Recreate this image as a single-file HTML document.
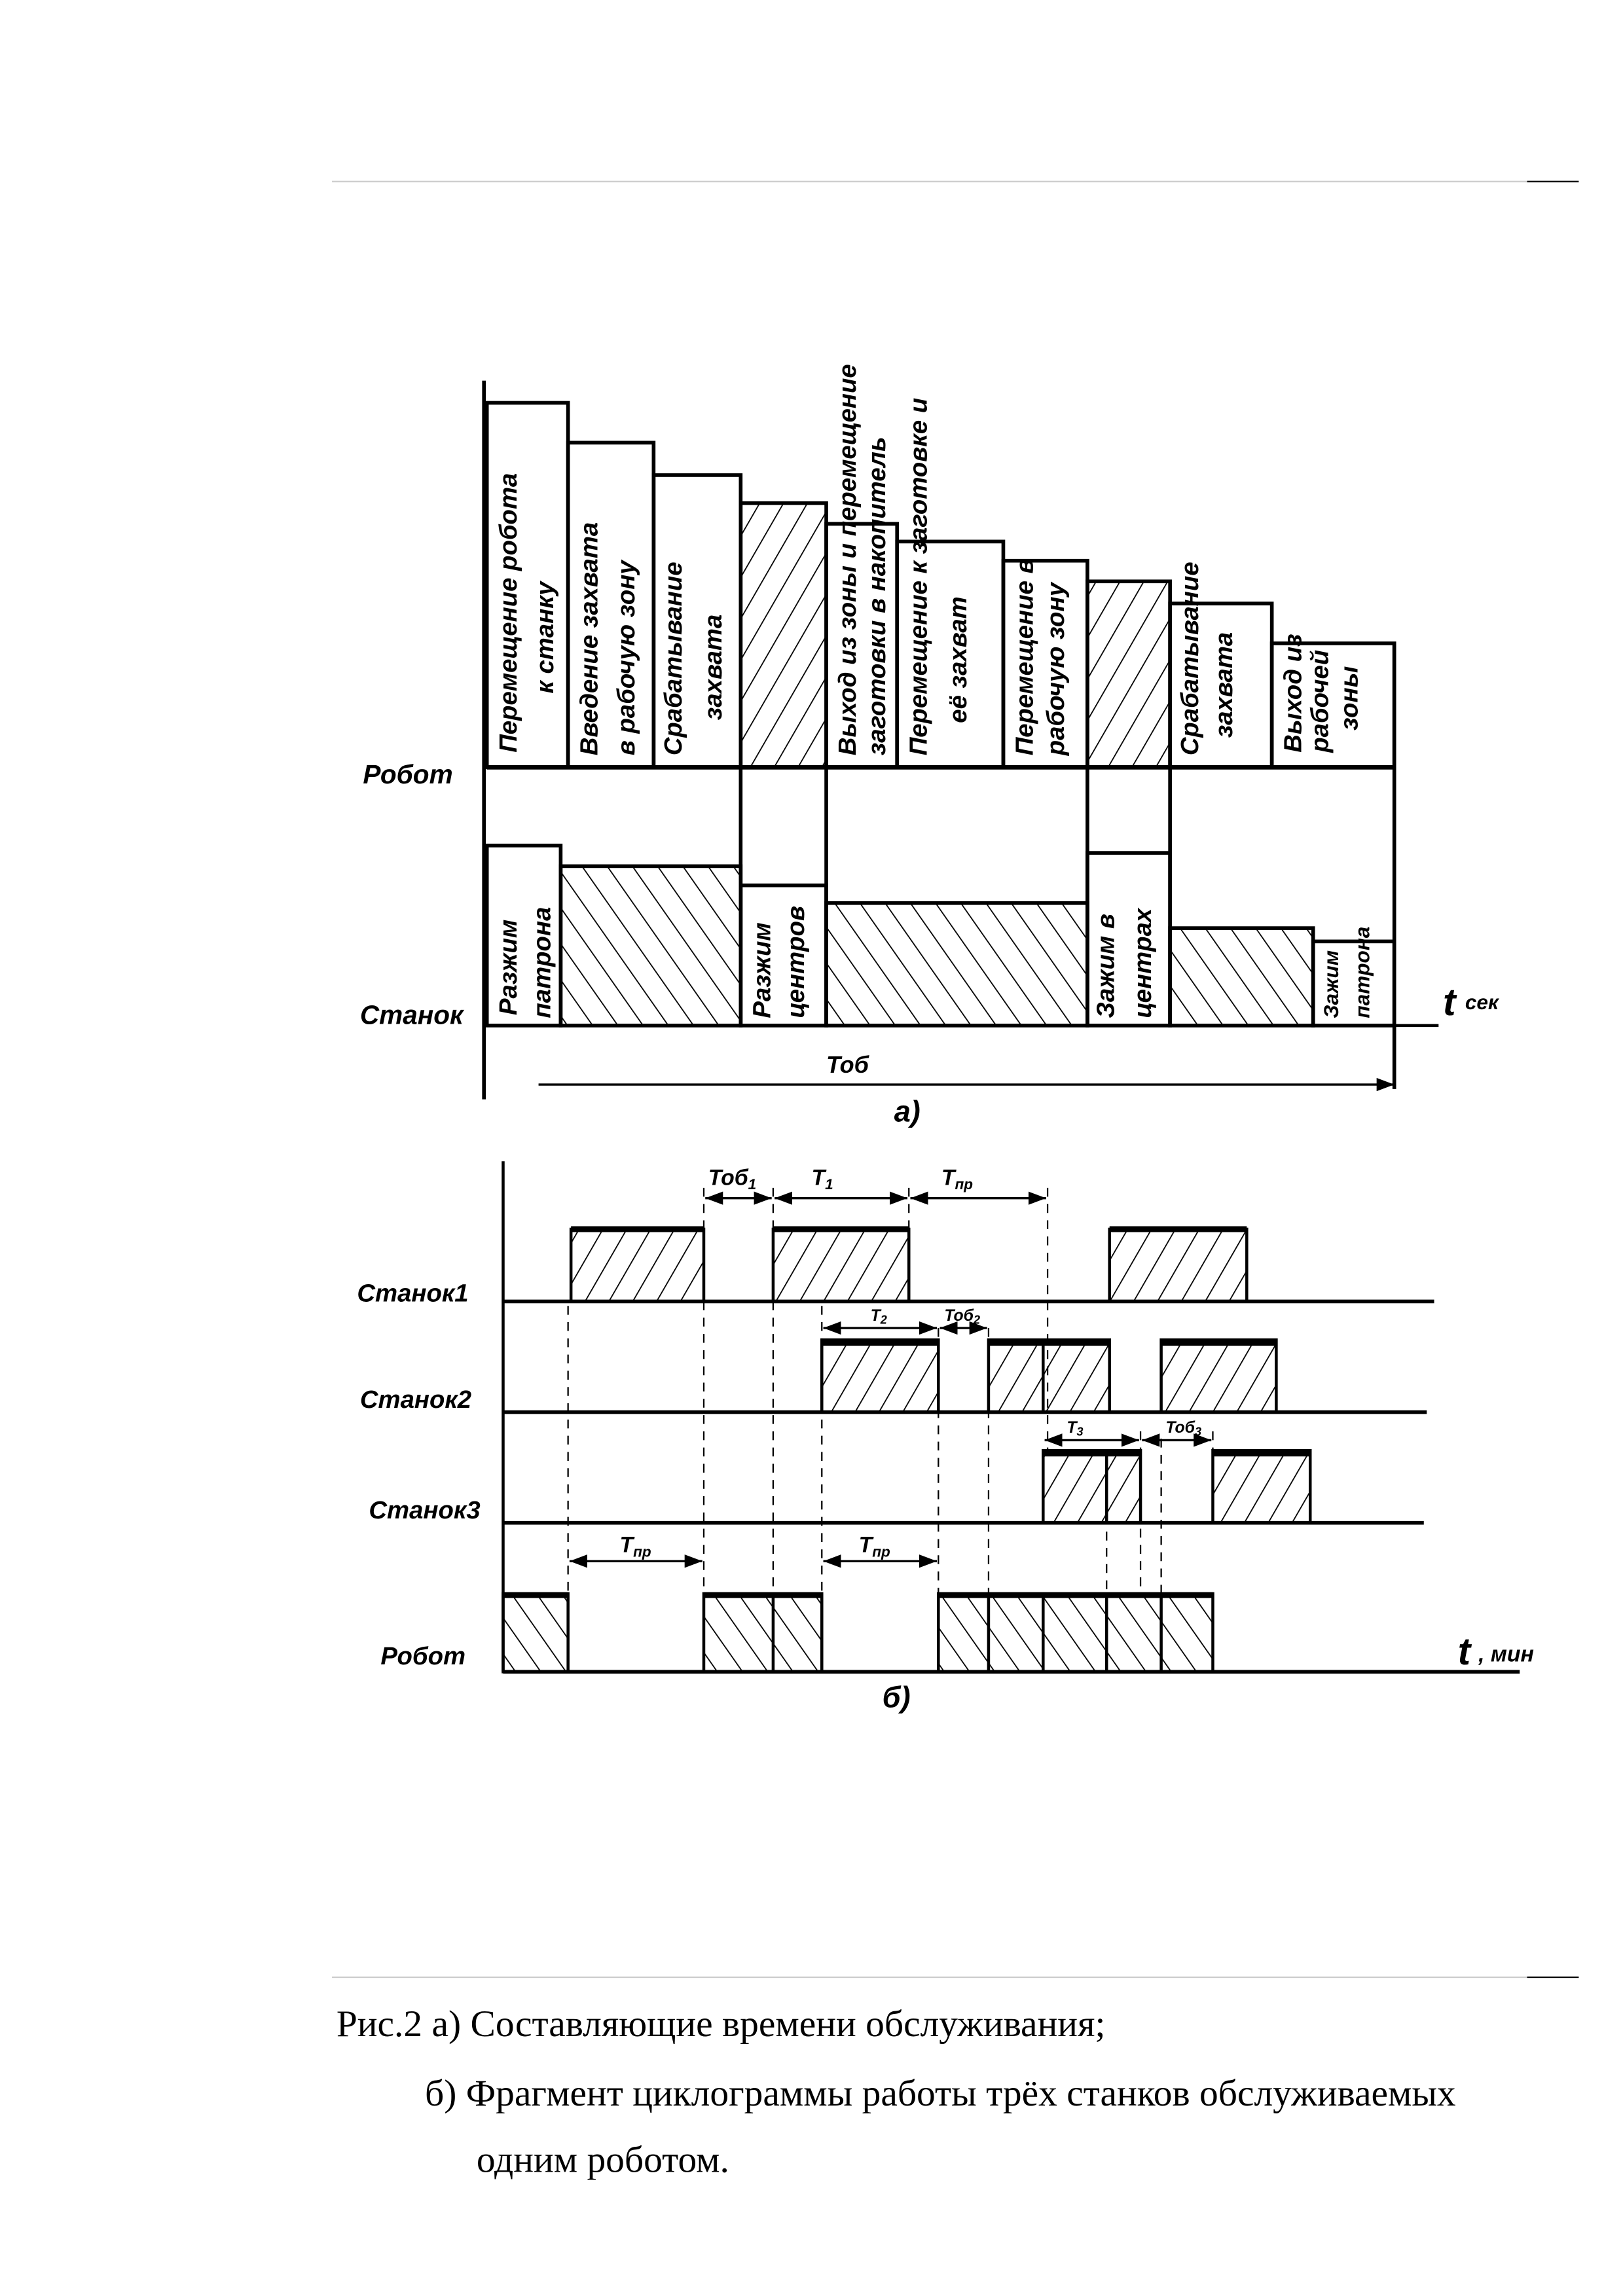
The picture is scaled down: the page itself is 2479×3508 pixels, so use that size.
<!DOCTYPE html>
<html><head><meta charset="utf-8"><style>
html,body{margin:0;padding:0;background:#fff;}
svg{display:block;}
.lb{font-family:"Liberation Sans","DejaVu Sans",sans-serif;font-style:italic;font-weight:bold;fill:#000;}
.cap{font-family:"Liberation Serif",serif;fill:#000;font-size:25.5px;}
</style></head><body>
<svg width="2479" height="3508" viewBox="0 0 1100 1556" preserveAspectRatio="none" xmlns="http://www.w3.org/2000/svg">
<defs>
<pattern id="hf" patternUnits="userSpaceOnUse" width="14" height="14" patternTransform="rotate(30)"><line x1="0" y1="0" x2="0" y2="14" stroke="#000" stroke-width="1.6"/></pattern>
<pattern id="hb" patternUnits="userSpaceOnUse" width="14" height="14" patternTransform="rotate(-35)"><line x1="0" y1="0" x2="0" y2="14" stroke="#000" stroke-width="1.6"/></pattern>
<marker id="ar" markerWidth="8" markerHeight="6" refX="8" refY="3" orient="auto"><path d="M0,0 L8,3 L0,6z" fill="#000"/></marker>
<marker id="al" markerWidth="8" markerHeight="6" refX="0" refY="3" orient="auto"><path d="M8,0 L0,3 L8,6z" fill="#000"/></marker>
</defs>
<line x1="225" y1="123" x2="1070" y2="123" stroke="#ccc" stroke-width="1"/>
<line x1="1035" y1="123" x2="1070" y2="123" stroke="#000" stroke-width="1"/>
<line x1="225" y1="1340" x2="1070" y2="1340" stroke="#ccc" stroke-width="1"/>
<line x1="1035" y1="1340" x2="1070" y2="1340" stroke="#000" stroke-width="1"/>

<!-- part a -->
<g stroke="#000" fill="none" stroke-width="2.5">
<line x1="328" y1="258" x2="328" y2="745"/>
<rect x="330" y="273" width="55" height="247"/>
<rect x="385" y="300" width="58" height="220"/>
<rect x="443" y="322" width="59" height="198"/>
<rect x="502" y="341" width="58" height="179" fill="url(#hf)"/>
<rect x="560" y="355" width="48" height="165"/>
<rect x="608" y="367" width="72" height="153"/>
<rect x="680" y="380" width="57" height="140"/>
<rect x="737" y="394" width="56" height="126" fill="url(#hf)"/>
<rect x="793" y="409" width="69" height="111"/>
<rect x="862" y="436" width="83" height="84"/>
<line x1="330" y1="520" x2="945" y2="520" stroke-width="3"/>
<line x1="502" y1="520" x2="502" y2="695"/>
<line x1="560" y1="520" x2="560" y2="695"/>
<line x1="737" y1="520" x2="737" y2="695"/>
<line x1="793" y1="520" x2="793" y2="695"/>
<line x1="945" y1="436" x2="945" y2="738"/>
<rect x="330" y="573" width="50" height="122"/>
<rect x="380" y="587" width="122" height="108" fill="url(#hb)"/>
<rect x="502" y="600" width="58" height="95"/>
<rect x="560" y="612" width="177" height="83" fill="url(#hb)"/>
<rect x="737" y="578" width="56" height="117"/>
<rect x="793" y="629" width="97" height="66" fill="url(#hb)"/>
<rect x="890" y="638" width="55" height="57"/>
<line x1="330" y1="695" x2="975" y2="695" stroke-width="2"/>
<line x1="365" y1="735" x2="945" y2="735" stroke-width="1.5" marker-end="url(#ar)"/>
</g>
<g class="lb" font-size="17">
<text transform="translate(350,510) rotate(-90)">Перемещение робота</text>
<text transform="translate(375,470) rotate(-90)">к станку</text>
<text transform="translate(405,512) rotate(-90)">Введение захвата</text>
<text transform="translate(430,512) rotate(-90)">в рабочую зону</text>
<text transform="translate(462,512) rotate(-90)">Срабатывание</text>
<text transform="translate(489,488) rotate(-90)">захвата</text>
<text transform="translate(580,512) rotate(-90)">Выход из зоны и перемещение</text>
<text transform="translate(600,512) rotate(-90)">заготовки в накопитель</text>
<text transform="translate(628,512) rotate(-90)">Перемещение к заготовке и</text>
<text transform="translate(655,490) rotate(-90)">её захват</text>
<text transform="translate(700,512) rotate(-90)">Перемещение в</text>
<text transform="translate(721,512) rotate(-90)">рабочую зону</text>
<text transform="translate(812,512) rotate(-90)">Срабатывание</text>
<text transform="translate(835,500) rotate(-90)">захвата</text>
<text transform="translate(882,510) rotate(-90)">Выход из</text>
<text transform="translate(900,510) rotate(-90)">рабочей</text>
<text transform="translate(920,495) rotate(-90)">зоны</text>
<text transform="translate(350,688) rotate(-90)">Разжим</text>
<text transform="translate(373,690) rotate(-90)">патрона</text>
<text transform="translate(522,690) rotate(-90)">Разжим</text>
<text transform="translate(545,690) rotate(-90)">центров</text>
<text transform="translate(755,690) rotate(-90)">Зажим в</text>
<text transform="translate(780,690) rotate(-90)">центрах</text>
<text transform="translate(907,690) rotate(-90)" font-size="14">Зажим</text>
<text transform="translate(928,690) rotate(-90)" font-size="14">патрона</text>
<text x="246" y="531" font-size="18">Робот</text>
<text x="244" y="694" font-size="18">Станок</text>
<text x="978" y="688" font-size="26">t</text>
<text x="993" y="684" font-size="14">сек</text>
<text x="560" y="727" font-size="16">Тоб</text>
<text x="606" y="760" font-size="20">а)</text>
</g>

<!-- part b -->
<g stroke="#000" fill="none">
<line x1="341" y1="787" x2="341" y2="1133" stroke-width="2"/>
<g stroke-width="1" stroke-dasharray="6,5">
<line x1="385" y1="885" x2="385" y2="1080"/>
<line x1="477" y1="805" x2="477" y2="1080"/>
<line x1="524" y1="805" x2="524" y2="1133"/>
<line x1="557" y1="885" x2="557" y2="1080"/>
<line x1="616" y1="805" x2="616" y2="833"/>
<line x1="636" y1="900" x2="636" y2="1080"/>
<line x1="670" y1="900" x2="670" y2="1133"/>
<line x1="710" y1="805" x2="710" y2="983"/>
<line x1="750" y1="983" x2="750" y2="1133"/>
<line x1="773" y1="970" x2="773" y2="1080"/>
<line x1="787" y1="975" x2="787" y2="1133"/>
<line x1="822" y1="970" x2="822" y2="983"/>
</g>
<g stroke-width="2">
<rect x="387" y="833" width="90" height="49" fill="url(#hf)"/>
<rect x="524" y="833" width="92" height="49" fill="url(#hf)"/>
<rect x="752" y="833" width="93" height="49" fill="url(#hf)"/>
<rect x="557" y="908" width="79" height="49" fill="url(#hf)"/>
<rect x="670" y="908" width="82" height="49" fill="url(#hf)"/>
<rect x="787" y="908" width="78" height="49" fill="url(#hf)"/>
<line x1="707" y1="908" x2="707" y2="957"/>
<rect x="707" y="983" width="66" height="49" fill="url(#hf)"/>
<line x1="750" y1="983" x2="750" y2="1032"/>
<rect x="822" y="983" width="66" height="49" fill="url(#hf)"/>
<rect x="341" y="1080" width="44" height="53" fill="url(#hb)"/>
<rect x="477" y="1080" width="80" height="53" fill="url(#hb)"/>
<rect x="636" y="1080" width="186" height="53" fill="url(#hb)"/>
<line x1="524" y1="1080" x2="524" y2="1133"/>
<line x1="670" y1="1080" x2="670" y2="1133"/>
<line x1="707" y1="1080" x2="707" y2="1133"/>
<line x1="750" y1="1080" x2="750" y2="1133"/>
<line x1="787" y1="1080" x2="787" y2="1133"/>
</g>
<g stroke-width="4">
<line x1="387" y1="833" x2="477" y2="833"/><line x1="524" y1="833" x2="616" y2="833"/><line x1="752" y1="833" x2="845" y2="833"/>
<line x1="557" y1="910" x2="636" y2="910"/><line x1="670" y1="910" x2="752" y2="910"/><line x1="787" y1="910" x2="865" y2="910"/>
<line x1="707" y1="985" x2="773" y2="985"/><line x1="822" y1="985" x2="888" y2="985"/>
<line x1="341" y1="1081" x2="385" y2="1081"/><line x1="477" y1="1081" x2="557" y2="1081"/><line x1="636" y1="1081" x2="822" y2="1081"/>
</g>
<g stroke-width="2.5">
<line x1="341" y1="882" x2="972" y2="882"/>
<line x1="341" y1="957" x2="967" y2="957"/>
<line x1="341" y1="1032" x2="965" y2="1032"/>
<line x1="341" y1="1133" x2="1030" y2="1133"/>
</g>
<g stroke-width="1.5">
<line x1="478" y1="812" x2="523" y2="812" marker-start="url(#al)" marker-end="url(#ar)"/>
<line x1="525" y1="812" x2="615" y2="812" marker-start="url(#al)" marker-end="url(#ar)"/>
<line x1="617" y1="812" x2="709" y2="812" marker-start="url(#al)" marker-end="url(#ar)"/>
<line x1="558" y1="900" x2="635" y2="900" marker-start="url(#al)" marker-end="url(#ar)"/>
<line x1="637" y1="900" x2="669" y2="900" marker-start="url(#al)" marker-end="url(#ar)"/>
<line x1="708" y1="976" x2="772" y2="976" marker-start="url(#al)" marker-end="url(#ar)"/>
<line x1="774" y1="976" x2="821" y2="976" marker-start="url(#al)" marker-end="url(#ar)"/>
<line x1="386" y1="1058" x2="476" y2="1058" marker-start="url(#al)" marker-end="url(#ar)"/>
<line x1="558" y1="1058" x2="635" y2="1058" marker-start="url(#al)" marker-end="url(#ar)"/>
</g>
</g>
<g class="lb">
<text x="480" y="803" font-size="15">Тоб<tspan font-size="10" dy="3">1</tspan></text>
<text x="550" y="803" font-size="15">Т<tspan font-size="10" dy="3">1</tspan></text>
<text x="638" y="803" font-size="15">Т<tspan font-size="10" dy="3">пр</tspan></text>
<text x="590" y="895" font-size="11">Т<tspan font-size="8" dy="2">2</tspan></text>
<text x="640" y="895" font-size="11">Тоб<tspan font-size="8" dy="2">2</tspan></text>
<text x="723" y="971" font-size="11">Т<tspan font-size="8" dy="2">3</tspan></text>
<text x="790" y="971" font-size="11">Тоб<tspan font-size="8" dy="2">3</tspan></text>
<text x="420" y="1052" font-size="15">Т<tspan font-size="10" dy="3">пр</tspan></text>
<text x="582" y="1052" font-size="15">Т<tspan font-size="10" dy="3">пр</tspan></text>
<text x="242" y="882" font-size="17">Станок1</text>
<text x="244" y="954" font-size="17">Станок2</text>
<text x="250" y="1029" font-size="17">Станок3</text>
<text x="258" y="1128" font-size="17">Робот</text>
<text x="988" y="1128" font-size="26">t</text>
<text x="1002" y="1126" font-size="15">, мин</text>
<text x="598" y="1157" font-size="20">б)</text>
</g>

<text class="cap" x="228" y="1380">Рис.2 а) Составляющие времени обслуживания;</text>
<text class="cap" x="288" y="1427">б) Фрагмент циклограммы работы трёх станков обслуживаемых</text>
<text class="cap" x="323" y="1472">одним роботом.</text>
</svg>
</body></html>
